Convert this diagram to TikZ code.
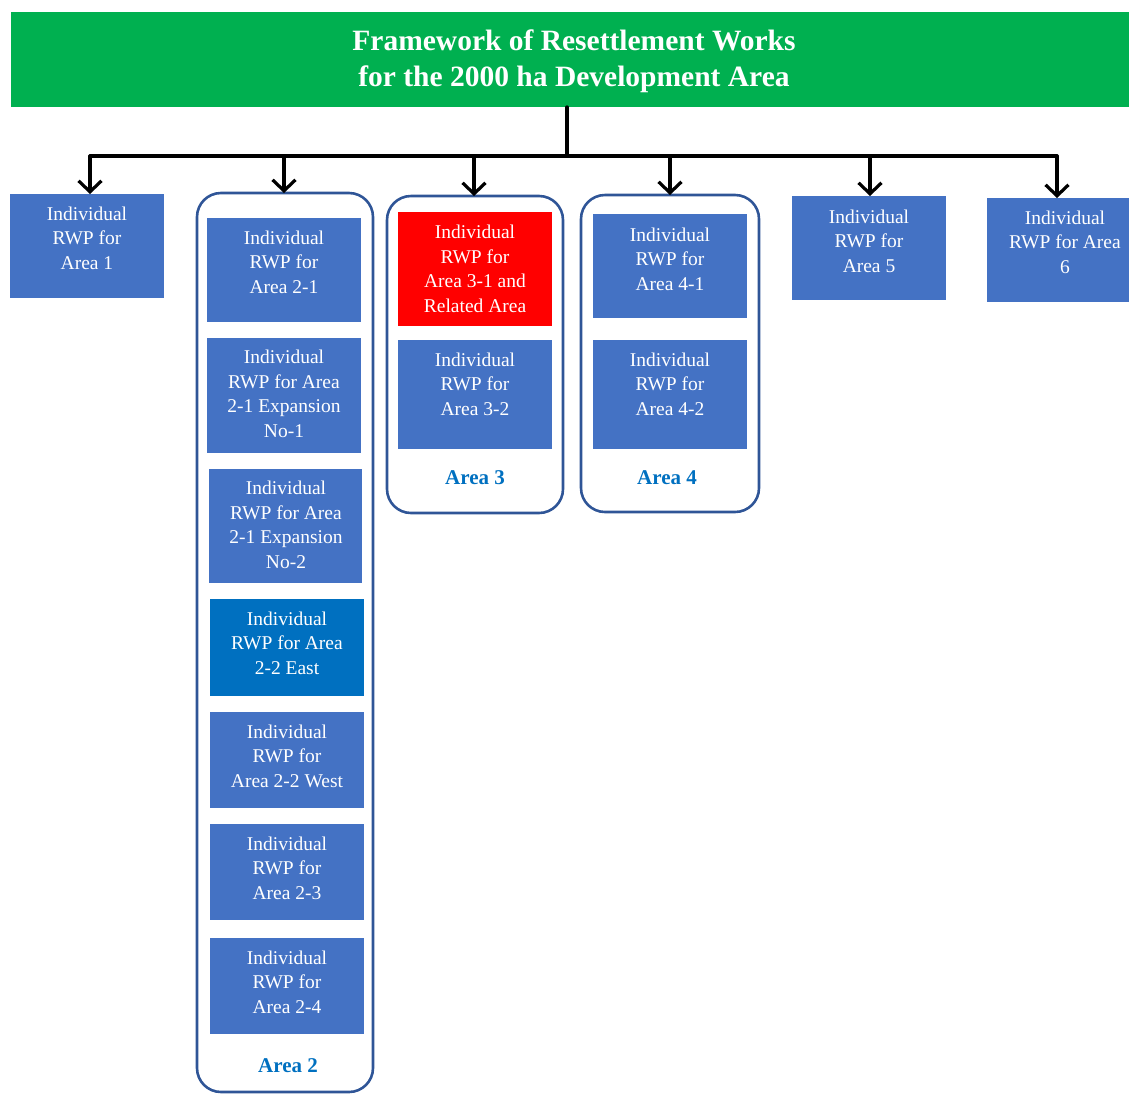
\documentclass[tikz,border=0pt]{standalone}
\usepackage{fontspec}
\setmainfont{Liberation Serif}
\usetikzlibrary{arrows.meta}

\definecolor{headgreen}{HTML}{00B050}
\definecolor{rwpblue}{HTML}{4472C4}
\definecolor{eastblue}{HTML}{0070C0}
\definecolor{hotred}{HTML}{FF0000}
\definecolor{frameblue}{HTML}{2F5597}
\definecolor{labelblue}{HTML}{0070C0}

\tikzset{
  x=1pt, y=-1pt,
  box/.style={fill=rwpblue, inner sep=0pt, outer sep=0pt, anchor=north west},
  boxtxt/.style={text=white, align=center, inner sep=0pt,
    font=\fontsize{19.5}{24.5}\selectfont},
  group/.style={draw=frameblue, line width=2.6pt, rounded corners=24pt,
    inner sep=0pt, outer sep=0pt, anchor=north west},
  grouplabel/.style={text=labelblue, inner sep=0pt,
    font=\fontsize{21}{24}\selectfont\bfseries},
  feed/.style={line width=3.2pt, draw=black, line cap=round, line join=round},
  arr/.style={feed, -{Straight Barb[length=11pt, width=23pt, line width=3.2pt]}},
}

\begin{document}
\begin{tikzpicture}
\useasboundingbox (0,0) rectangle (1129,1093);

% title bar
\node[box, fill=headgreen, minimum width=1118pt, minimum height=95pt] (head) at (11,12) {};
\node[text=white, align=center, inner sep=0pt,
  font=\fontsize{29.5}{36}\selectfont\bfseries] (title) at (574,61)
  {Framework of Resettlement Works\\for the 2000 ha Development Area};

% grouping frames
\node[group, minimum width=176pt, minimum height=899pt] (g2) at (197,193) {};
\node[group, minimum width=176pt, minimum height=317pt] (g3) at (387,196) {};
\node[group, minimum width=178pt, minimum height=317pt] (g4) at (581,195) {};

% Area 1
\node[box, minimum width=154pt, minimum height=104pt] (a1) at (10,194) {};
\node[boxtxt] (a1t) at (87,238) {Individual\\RWP for\\Area 1};

% Area 2
\node[box, minimum width=154pt, minimum height=104pt] (a21) at (207,218) {};
\node[boxtxt] (a21t) at (284,262) {Individual\\RWP for\\Area 2-1};
\node[box, minimum width=154pt, minimum height=115pt] (a21e1) at (207,338) {};
\node[boxtxt] (a21e1t) at (284,394) {Individual\\RWP for Area\\2-1 Expansion\\No-1};
\node[box, minimum width=153pt, minimum height=114pt] (a21e2) at (209,469) {};
\node[boxtxt] (a21e2t) at (286,525) {Individual\\RWP for Area\\2-1 Expansion\\No-2};
\node[box, fill=eastblue, minimum width=154pt, minimum height=97pt] (a22e) at (210,599) {};
\node[boxtxt] (a22et) at (287,643) {Individual\\RWP for Area\\2-2 East};
\node[box, minimum width=154pt, minimum height=96pt] (a22w) at (210,712) {};
\node[boxtxt] (a22wt) at (287,756) {Individual\\RWP for\\Area 2-2 West};
\node[box, minimum width=154pt, minimum height=96pt] (a23) at (210,824) {};
\node[boxtxt] (a23t) at (287,868) {Individual\\RWP for\\Area 2-3};
\node[box, minimum width=154pt, minimum height=96pt] (a24) at (210,938) {};
\node[boxtxt] (a24t) at (287,982) {Individual\\RWP for\\Area 2-4};
\node[grouplabel] (g2l) at (288,1066) {Area 2};

% Area 3
\node[box, fill=hotred, minimum width=154pt, minimum height=114pt] (a31) at (398,212) {};
\node[boxtxt] (a31t) at (475,269) {Individual\\RWP for\\Area 3-1 and\\Related Area};
\node[box, minimum width=154pt, minimum height=109pt] (a32) at (398,340) {};
\node[boxtxt] (a32t) at (475,384) {Individual\\RWP for\\Area 3-2};
\node[grouplabel] (g3l) at (475,478) {Area 3};

% Area 4
\node[box, minimum width=154pt, minimum height=104pt] (a41) at (593,214) {};
\node[boxtxt] (a41t) at (670,259) {Individual\\RWP for\\Area 4-1};
\node[box, minimum width=154pt, minimum height=109pt] (a42) at (593,340) {};
\node[boxtxt] (a42t) at (670,384) {Individual\\RWP for\\Area 4-2};
\node[grouplabel] (g4l) at (667,478) {Area 4};

% Areas 5 and 6
\node[box, minimum width=154pt, minimum height=104pt] (a5) at (792,196) {};
\node[boxtxt] (a5t) at (869,241) {Individual\\RWP for\\Area 5};
\node[box, minimum width=142pt, minimum height=104pt] (a6) at (987,198) {};
\node[boxtxt] (a6t) at (1065,242) {Individual\\RWP for Area\\6};

% distribution bar
\coordinate (hub) at (567,156);
\coordinate (b1) at (90,156);
\coordinate (b2) at (284,156);
\coordinate (b3) at (474,156);
\coordinate (b4) at (670,156);
\coordinate (b5) at (870,156);
\coordinate (b6) at (1057,156);
\draw[feed] (head.south -| hub) -- (hub);
\draw[feed] (b1) -- (b6);
\draw[arr] (b1) -- (b1 |- a1.north);
\draw[arr] (b2) -- (b2 |- g2.north);
\draw[arr] (b3) -- (b3 |- g3.north);
\draw[arr] (b4) -- (b4 |- g4.north);
\draw[arr] (b5) -- (b5 |- a5.north);
\draw[arr] (b6) -- (b6 |- a6.north);
\end{tikzpicture}
\end{document}
